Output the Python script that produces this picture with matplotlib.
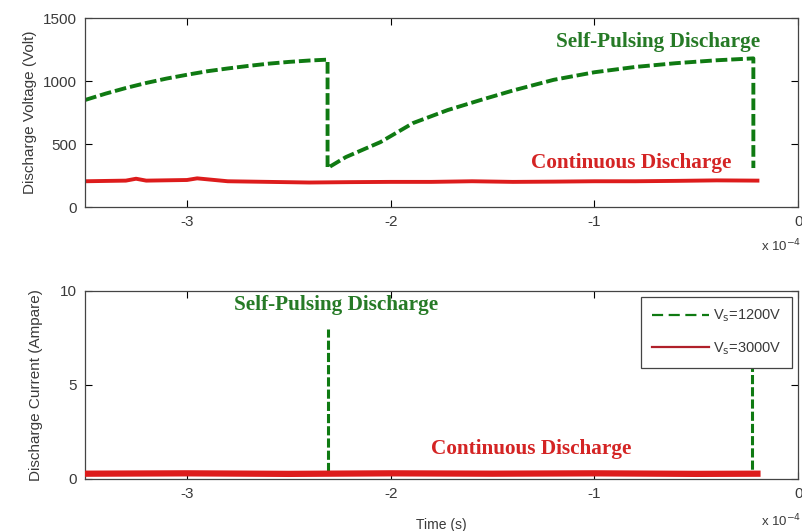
import numpy as np
import matplotlib.pyplot as plt
from matplotlib.lines import Line2D
from matplotlib.ticker import FuncFormatter

plt.rcParams['font.family'] = ['Liberation Sans', 'DejaVu Sans']

# time axis in units of 1e-4 s
t_scale = 1e-4

# discharge voltage, self-pulsing (Vs = 1200 V)
v_sp_t = [-3.5, -3.4, -3.3, -3.2, -3.1, -3.0, -2.9, -2.8, -2.7, -2.6, -2.5, -2.4, -2.31,
          -2.31, -2.22, -2.05, -1.89, -1.72, -1.56, -1.4, -1.2, -1.0, -0.8, -0.6, -0.4, -0.22,
          -0.22]
v_sp = [850, 900, 945, 985, 1020, 1050, 1078, 1100, 1120, 1138, 1152, 1163, 1170,
        310, 397, 516, 667, 770, 849, 925, 1010, 1070, 1112, 1142, 1165, 1180,
        310]

# discharge voltage, continuous (Vs = 3000 V)
v_c_t = [-3.5, -3.3, -3.25, -3.2, -3.0, -2.95, -2.8, -2.6, -2.4, -2.2, -2.0, -1.8, -1.6,
         -1.4, -1.2, -1.0, -0.8, -0.6, -0.4, -0.2]
v_c = [205, 210, 225, 210, 215, 228, 205, 200, 195, 198, 200, 200, 205,
       200, 202, 205, 205, 208, 212, 210]

# discharge current, self-pulsing (nan splits the trace after each pulse peak)
i_sp_t = [-3.5, -2.31, -2.31, np.nan, -2.31, -0.225, -0.225, np.nan, -0.225]
i_sp = [0.3, 0.3, 8.0, np.nan, 0.3, 0.3, 8.0, np.nan, 0.3]

# discharge current, continuous
i_c_t = [-3.5, -3.0, -2.5, -2.0, -1.5, -1.0, -0.5, -0.2]
i_c = [0.28, 0.3, 0.27, 0.3, 0.28, 0.3, 0.27, 0.28]

series_labels = [r'V$_{\rm s}$=1200V', r'V$_{\rm s}$=3000V']

green = '#0f7a12'
red = '#dd1c1c'
txt_gray = '#3a3a3a'
dash = (0, (3, 1.0))

fig = plt.figure(figsize=(8.03, 5.31), dpi=100)
ax1 = fig.add_axes([0.106, 0.610, 0.888, 0.356])
ax2 = fig.add_axes([0.106, 0.098, 0.888, 0.354])

ax1.plot(np.array(v_sp_t) * t_scale, v_sp, color=green, lw=2.8, ls=dash)
ax1.plot(np.array(v_c_t) * t_scale, v_c, color=red, lw=2.8)

ax2.plot(np.array(i_sp_t) * t_scale, i_sp, color=green, lw=2.2, ls=dash, zorder=2)
ax2.plot(np.array(i_c_t) * t_scale, i_c, color=red, lw=4.5, zorder=3)

fmt = FuncFormatter(lambda x, p: '%g' % round(x / t_scale, 6))
for ax in (ax1, ax2):
    ax.set_xlim(-3.5e-4, 0)
    ax.set_xticks([-3e-4, -2e-4, -1e-4, 0])
    ax.xaxis.set_major_formatter(fmt)
    ax.tick_params(direction='in', top=True, right=True, length=5, width=0.8,
                   labelsize=11, labelcolor=txt_gray, pad=6)
    for s in ax.spines.values():
        s.set_color('#444444')
        s.set_linewidth(0.9)

ax1.set_ylim(0, 1500)
ax1.set_yticks([0, 500, 1000, 1500])
ax1.set_ylabel('Discharge Voltage (Volt)', fontsize=11, color=txt_gray, labelpad=4)

ax2.set_ylim(0, 10)
ax2.set_yticks([0, 5, 10])
ax2.set_ylabel('Discharge Current (Ampare)', fontsize=11, color=txt_gray, labelpad=12)
ax2.set_xlabel('Time (s)', fontsize=10, color=txt_gray, labelpad=12)

# exponent labels below each axis
fig.text(0.998, 0.537, r'x 10$^{-4}$', fontsize=9.5, color=txt_gray, ha='right', va='center')
fig.text(0.998, 0.018, r'x 10$^{-4}$', fontsize=9.5, color=txt_gray, ha='right', va='center')

lab = dict(fontsize=15.3, fontweight='bold', family='Liberation Serif')
ax1.text(-0.69e-4, 1310, 'Self-Pulsing Discharge', color='#267a26', ha='center', va='center', **lab)
ax1.text(-0.82e-4, 349, 'Continuous Discharge', color='#d42424', ha='center', va='center', **lab)
ax2.text(-2.27e-4, 9.25, 'Self-Pulsing Discharge', color='#267a26', ha='center', va='center', **lab)
ax2.text(-1.31e-4, 1.6, 'Continuous Discharge', color='#d42424', ha='center', va='center', **lab)

handles = [Line2D([], [], color=green, lw=1.6, ls=(0, (5, 2.5))),
           Line2D([], [], color='#b0202a', lw=1.6)]
leg = ax2.legend(handles, series_labels, loc='upper right', fontsize=10.5, frameon=True,
                 fancybox=False, framealpha=1, edgecolor='#444444', borderaxespad=0.4,
                 handlelength=3.9, handletextpad=0.3, labelspacing=1.1, borderpad=0.75)
leg.get_frame().set_linewidth(0.9)
for t in leg.get_texts():
    t.set_color(txt_gray)

fig.savefig('out.png', dpi=100)
